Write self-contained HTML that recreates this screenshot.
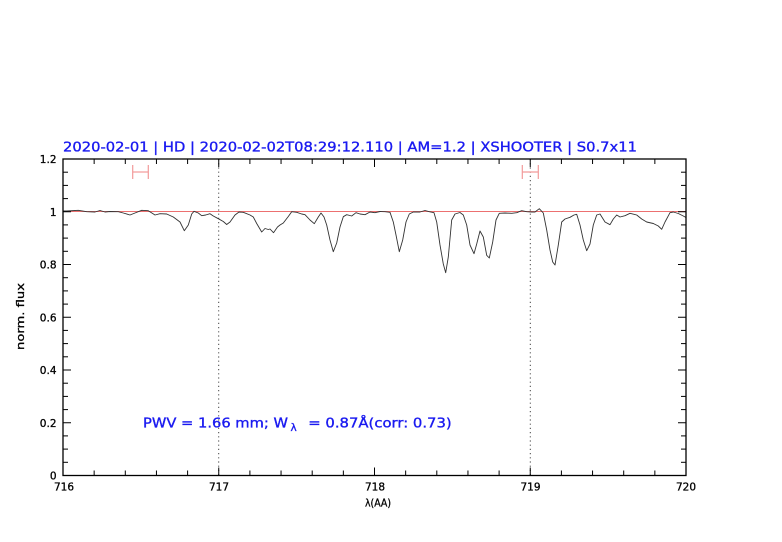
<!DOCTYPE html>
<html><head><meta charset="utf-8">
<style>
html,body{margin:0;padding:0;background:#fff;}
svg{display:block;}
text{font-family:"DejaVu Sans","Liberation Sans",sans-serif;}
</style></head>
<body>
<svg width="782" height="542" viewBox="0 0 782 542" xmlns="http://www.w3.org/2000/svg">
<rect width="782" height="542" fill="#fff"/>
<!-- title -->
<text x="63" y="151.5" font-size="13.5" fill="#1a1af0" stroke="#1a1af0" stroke-width="0.35" textLength="574" lengthAdjust="spacingAndGlyphs">2020-02-01 | HD | 2020-02-02T08:29:12.110 | AM=1.2 | XSHOOTER | S0.7x11</text>

<!-- reference line at 1 -->
<line x1="63" y1="211.5" x2="686" y2="211.5" stroke="#ec7070" stroke-width="1"/>

<!-- dotted verticals -->
<line x1="218.7" y1="159" x2="218.7" y2="475" stroke="#444" stroke-width="1" stroke-dasharray="1.2,3"/>
<line x1="530.3" y1="159" x2="530.3" y2="475" stroke="#444" stroke-width="1" stroke-dasharray="1.2,3"/>

<!-- error bars -->
<g stroke="#f29a9a" stroke-width="1.2" fill="none">
<line x1="132.7" y1="172" x2="148.3" y2="172"/>
<line x1="132.7" y1="165" x2="132.7" y2="179"/>
<line x1="148.3" y1="165" x2="148.3" y2="179"/>
<line x1="522.3" y1="172" x2="538.3" y2="172"/>
<line x1="522.3" y1="165" x2="522.3" y2="179"/>
<line x1="538.3" y1="165" x2="538.3" y2="179"/>
</g>

<!-- spectrum -->
<polyline fill="none" stroke="#333" stroke-width="0.9" stroke-linejoin="round" points="63,211 66.7,211 78.3,210.3 86.7,211.7 95,212 100,210.5 105,212 110,211.5 118.3,211.7 123.3,213 130,215 135,213 141.7,210.3 148.3,210.7 155,215 160,213.7 166.7,214 173.3,217 180,222 184.3,230.7 188.3,225 191.7,214 194,211.3 198.3,213 201.7,215.7 205.7,215 210,213.7 213.3,216 218.3,218.7 223.3,221.5 226.7,224.5 230,222 235,215 239,212 243.3,212.3 250,215 253.3,217 256.7,223.5 261.7,232 265,228.5 268.3,229.5 270,229 273.5,232.7 277.5,227 280,225 283.3,223 288.3,216.5 291.7,211.7 296.7,212.3 301.7,214 305,214.7 310,220 314.3,223.7 318.3,217 321,213 324,217 326.7,225 330,240 333.3,251.7 336.7,243 340,227 343.3,216.7 346.7,214.7 351.7,216 356,212.7 360,214 365,214.7 370,212 375,212.7 380,211.5 385,211.7 390,212.3 393.3,222 396,235 399.3,251.7 402.7,240 406,222 409.3,214 413.3,212 420,212 425,210.5 429.3,211.7 434,212.7 436.7,222 440,245 443.3,264 445.7,272.7 448.3,257 451.7,220 455,214 460,212.5 463.3,215 466.7,225 470,245 474,253.7 476.7,244 480,231 483.3,237 486.7,255.3 489.3,258 492.7,242 496,220 499.3,213.3 505,213 511.7,213.3 516.7,212.7 521.7,210.7 526.7,211.7 531.7,212 535,212 539.3,208.7 543.3,213 546.7,230 550,250 552.7,262 555,265 558.3,245 561.7,222 565,219 570,217.3 574,215 576.7,214.3 580,225 583.3,240 586.7,250.7 590,244 593.3,225 596.7,215 600,214 605,222 610,224.7 613.3,219 616.7,215 620,217 625,215.7 630,213.3 636.7,215 641.7,219 646.7,222 653.3,223.5 658.3,226 661.7,229.3 665,222 670,212.7 673.3,212 678.3,213.5 683.3,216 686,217.5"/>

<!-- axes box -->
<rect x="63" y="159" width="623" height="316.5" fill="none" stroke="#000" stroke-width="1.3"/>

<!-- x ticks -->
<g stroke="#000" stroke-width="1">
<line x1="94.15" y1="475.5" x2="94.15" y2="470.5"/><line x1="125.3" y1="475.5" x2="125.3" y2="470.5"/><line x1="156.45" y1="475.5" x2="156.45" y2="470.5"/><line x1="187.6" y1="475.5" x2="187.6" y2="470.5"/>
<line x1="218.75" y1="475.5" x2="218.75" y2="467.5"/>
<line x1="249.9" y1="475.5" x2="249.9" y2="470.5"/><line x1="281.05" y1="475.5" x2="281.05" y2="470.5"/><line x1="312.2" y1="475.5" x2="312.2" y2="470.5"/><line x1="343.35" y1="475.5" x2="343.35" y2="470.5"/>
<line x1="374.5" y1="475.5" x2="374.5" y2="467.5"/>
<line x1="405.65" y1="475.5" x2="405.65" y2="470.5"/><line x1="436.8" y1="475.5" x2="436.8" y2="470.5"/><line x1="467.95" y1="475.5" x2="467.95" y2="470.5"/><line x1="499.1" y1="475.5" x2="499.1" y2="470.5"/>
<line x1="530.25" y1="475.5" x2="530.25" y2="467.5"/>
<line x1="561.4" y1="475.5" x2="561.4" y2="470.5"/><line x1="592.55" y1="475.5" x2="592.55" y2="470.5"/><line x1="623.7" y1="475.5" x2="623.7" y2="470.5"/><line x1="654.85" y1="475.5" x2="654.85" y2="470.5"/>
<!-- top -->
<line x1="94.15" y1="159" x2="94.15" y2="164"/><line x1="125.3" y1="159" x2="125.3" y2="164"/><line x1="156.45" y1="159" x2="156.45" y2="164"/><line x1="187.6" y1="159" x2="187.6" y2="164"/>
<line x1="218.75" y1="159" x2="218.75" y2="167"/>
<line x1="249.9" y1="159" x2="249.9" y2="164"/><line x1="281.05" y1="159" x2="281.05" y2="164"/><line x1="312.2" y1="159" x2="312.2" y2="164"/><line x1="343.35" y1="159" x2="343.35" y2="164"/>
<line x1="374.5" y1="159" x2="374.5" y2="167"/>
<line x1="405.65" y1="159" x2="405.65" y2="164"/><line x1="436.8" y1="159" x2="436.8" y2="164"/><line x1="467.95" y1="159" x2="467.95" y2="164"/><line x1="499.1" y1="159" x2="499.1" y2="164"/>
<line x1="530.25" y1="159" x2="530.25" y2="167"/>
<line x1="561.4" y1="159" x2="561.4" y2="164"/><line x1="592.55" y1="159" x2="592.55" y2="164"/><line x1="623.7" y1="159" x2="623.7" y2="164"/><line x1="654.85" y1="159" x2="654.85" y2="164"/>
</g>

<!-- y ticks -->
<g stroke="#000" stroke-width="1">
<line x1="63" y1="462.3" x2="68" y2="462.3"/><line x1="63" y1="449.1" x2="68" y2="449.1"/><line x1="63" y1="435.9" x2="68" y2="435.9"/>
<line x1="63" y1="422.75" x2="71" y2="422.75"/>
<line x1="63" y1="409.6" x2="68" y2="409.6"/><line x1="63" y1="396.4" x2="68" y2="396.4"/><line x1="63" y1="383.2" x2="68" y2="383.2"/>
<line x1="63" y1="370" x2="71" y2="370"/>
<line x1="63" y1="356.8" x2="68" y2="356.8"/><line x1="63" y1="343.6" x2="68" y2="343.6"/><line x1="63" y1="330.4" x2="68" y2="330.4"/>
<line x1="63" y1="317.25" x2="71" y2="317.25"/>
<line x1="63" y1="304.1" x2="68" y2="304.1"/><line x1="63" y1="290.9" x2="68" y2="290.9"/><line x1="63" y1="277.7" x2="68" y2="277.7"/>
<line x1="63" y1="264.5" x2="71" y2="264.5"/>
<line x1="63" y1="251.3" x2="68" y2="251.3"/><line x1="63" y1="238.1" x2="68" y2="238.1"/><line x1="63" y1="224.9" x2="68" y2="224.9"/>
<line x1="63" y1="211.75" x2="71" y2="211.75"/>
<line x1="63" y1="198.6" x2="68" y2="198.6"/><line x1="63" y1="185.4" x2="68" y2="185.4"/><line x1="63" y1="172.2" x2="68" y2="172.2"/>
<line x1="686" y1="462.3" x2="681" y2="462.3"/><line x1="686" y1="449.1" x2="681" y2="449.1"/><line x1="686" y1="435.9" x2="681" y2="435.9"/>
<line x1="686" y1="422.75" x2="678" y2="422.75"/>
<line x1="686" y1="409.6" x2="681" y2="409.6"/><line x1="686" y1="396.4" x2="681" y2="396.4"/><line x1="686" y1="383.2" x2="681" y2="383.2"/>
<line x1="686" y1="370" x2="678" y2="370"/>
<line x1="686" y1="356.8" x2="681" y2="356.8"/><line x1="686" y1="343.6" x2="681" y2="343.6"/><line x1="686" y1="330.4" x2="681" y2="330.4"/>
<line x1="686" y1="317.25" x2="678" y2="317.25"/>
<line x1="686" y1="304.1" x2="681" y2="304.1"/><line x1="686" y1="290.9" x2="681" y2="290.9"/><line x1="686" y1="277.7" x2="681" y2="277.7"/>
<line x1="686" y1="264.5" x2="678" y2="264.5"/>
<line x1="686" y1="251.3" x2="681" y2="251.3"/><line x1="686" y1="238.1" x2="681" y2="238.1"/><line x1="686" y1="224.9" x2="681" y2="224.9"/>
<line x1="686" y1="211.75" x2="678" y2="211.75"/>
<line x1="686" y1="198.6" x2="681" y2="198.6"/><line x1="686" y1="185.4" x2="681" y2="185.4"/><line x1="686" y1="172.2" x2="681" y2="172.2"/>
</g>

<!-- y labels -->
<g font-size="10.5" fill="#000" stroke="#000" stroke-width="0.3" text-anchor="end">
<text x="56.5" y="479.5">0</text>
<text x="56.5" y="426.8">0.2</text>
<text x="56.5" y="374">0.4</text>
<text x="56.5" y="321.3">0.6</text>
<text x="56.5" y="268.5">0.8</text>
<text x="56.5" y="215.8">1</text>
<text x="56.5" y="163">1.2</text>
</g>

<!-- x labels -->
<g font-size="10.5" fill="#000" stroke="#000" stroke-width="0.3" text-anchor="middle">
<text x="64" y="490.5">716</text>
<text x="219" y="490.5">717</text>
<text x="375" y="490.5">718</text>
<text x="530.5" y="490.5">719</text>
<text x="686" y="490.5">720</text>
</g>

<text x="365" y="506.5" font-size="11" fill="#000" stroke="#000" stroke-width="0.3" textLength="26" lengthAdjust="spacingAndGlyphs">λ(AA)</text>
<text transform="translate(24,350) rotate(-90)" font-size="11" fill="#000" stroke="#000" stroke-width="0.3" textLength="67" lengthAdjust="spacingAndGlyphs">norm. flux</text>

<!-- PWV annotation -->
<g fill="#1a1af0" stroke="#1a1af0" stroke-width="0.35">
<text x="143" y="427.5" font-size="13.5" textLength="145" lengthAdjust="spacingAndGlyphs">PWV = 1.66 mm; W</text>
<text x="290.5" y="431" font-size="10.5">λ</text>
<text x="308.3" y="427.5" font-size="13.5" textLength="143.4" lengthAdjust="spacingAndGlyphs">= 0.87Å(corr: 0.73)</text>
</g>
</svg>
</body></html>
